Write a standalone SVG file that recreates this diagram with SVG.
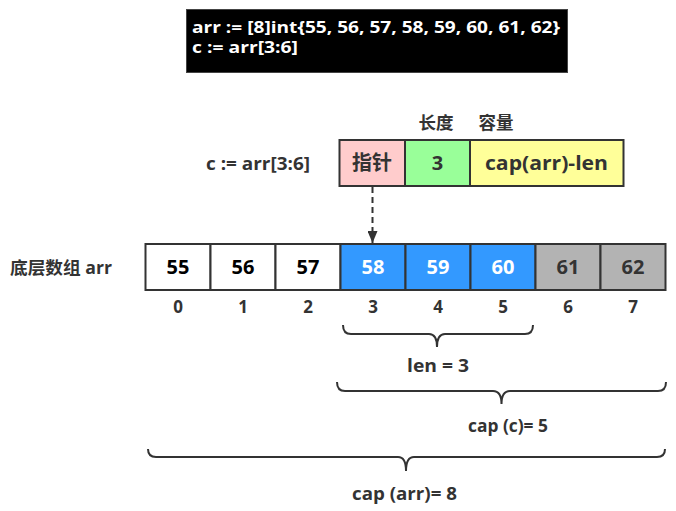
<svg xmlns="http://www.w3.org/2000/svg" width="676" height="511" viewBox="0 0 676 511">
<defs>
<style>
text{font-family:"Open Sans","Noto Sans CJK SC",sans-serif;font-weight:bold;}
.lbl{font-size:17.5px;fill:#333;text-anchor:middle;}
.idx{font-size:17px;fill:#333;text-anchor:middle;}
.num{font-size:20px;text-anchor:middle;}
.cell{stroke:#333;stroke-width:2;}
.brace{fill:none;stroke:#333;stroke-width:2;}
</style>
<marker id="arr" markerWidth="12" markerHeight="10" refX="12" refY="5" orient="auto" markerUnits="userSpaceOnUse" viewBox="0 0 12 10">
<path d="M0,0 L12,5 L0,10 Z" fill="#333"/>
</marker>
</defs>
<rect width="676" height="511" fill="#fff"/>
<g id="code">
<rect x="186.5" y="9.5" width="381" height="63" fill="#000" stroke="#444" stroke-width="1"/>
<text x="192" y="33" font-size="16" fill="#fff" textLength="368" lengthAdjust="spacingAndGlyphs">arr := [8]int{55, 56, 57, 58, 59, 60, 61, 62}</text>
<text x="192" y="53" font-size="16" fill="#fff" textLength="106" lengthAdjust="spacingAndGlyphs">c := arr[3:6]</text>
</g>
<g id="slice">
<text class="lbl" x="258" y="169.5" textLength="104" lengthAdjust="spacingAndGlyphs">c := arr[3:6]</text>
<text class="lbl" x="436" y="128.5">长度</text>
<text class="lbl" x="496" y="128.5">容量</text>
<rect class="cell" x="339.5" y="140" width="65.5" height="46" fill="#FFCCCC"/>
<rect class="cell" x="405" y="140" width="65" height="46" fill="#99FF99"/>
<rect class="cell" x="470" y="140" width="153.5" height="46" fill="#FFFF99"/>
<text class="num" x="372" y="170" fill="#333" font-size="19">指针</text>
<text class="num" x="437.5" y="170" fill="#333">3</text>
<text class="num" x="546.5" y="170" fill="#333" textLength="123" lengthAdjust="spacingAndGlyphs">cap(arr)-len</text>
</g>
<g id="connectors">
<line x1="372.5" y1="187" x2="372.5" y2="243" stroke="#333" stroke-width="2" stroke-dasharray="6,4" marker-end="url(#arr)"/>
</g>
<g id="array">
<text class="lbl" x="61" y="274" textLength="102" lengthAdjust="spacingAndGlyphs">底层数组 arr</text>
<rect class="cell" x="145.5" y="244" width="65" height="46" fill="#fff"/>
<rect class="cell" x="210.5" y="244" width="65" height="46" fill="#fff"/>
<rect class="cell" x="275.5" y="244" width="65" height="46" fill="#fff"/>
<rect class="cell" x="340.5" y="244" width="65" height="46" fill="#3399FF"/>
<rect class="cell" x="405.5" y="244" width="65" height="46" fill="#3399FF"/>
<rect class="cell" x="470.5" y="244" width="65" height="46" fill="#3399FF"/>
<rect class="cell" x="535.5" y="244" width="65" height="46" fill="#B3B3B3"/>
<rect class="cell" x="600.5" y="244" width="65" height="46" fill="#B3B3B3"/>
<text class="num" x="178" y="274" fill="#000">55</text>
<text class="num" x="243" y="274" fill="#000">56</text>
<text class="num" x="308" y="274" fill="#000">57</text>
<text class="num" x="373" y="274" fill="#fff">58</text>
<text class="num" x="438" y="274" fill="#fff">59</text>
<text class="num" x="503" y="274" fill="#fff">60</text>
<text class="num" x="568" y="274" fill="#333">61</text>
<text class="num" x="633" y="274" fill="#333">62</text>
<text class="idx" x="178" y="312.5">0</text>
<text class="idx" x="243" y="312.5">1</text>
<text class="idx" x="308" y="312.5">2</text>
<text class="idx" x="373" y="312.5">3</text>
<text class="idx" x="438" y="312.5">4</text>
<text class="idx" x="503" y="312.5">5</text>
<text class="idx" x="568" y="312.5">6</text>
<text class="idx" x="633" y="312.5">7</text>
</g>
<g id="len-brace">
<path class="brace" d="M343,325 Q343,334 351,334 L429,334 Q437,334 437,347 Q437,334 445,334 L525,334 Q533,334 533,325"/>
<text class="lbl" x="438" y="371.5" textLength="62" lengthAdjust="spacingAndGlyphs">len = 3</text>
</g>
<g id="capc-brace">
<path class="brace" d="M337,382 Q337,391 345,391 L493,391 Q501.5,391 501.5,404 Q501.5,391 510,391 L658,391 Q666,391 666,382"/>
<text class="lbl" x="508" y="432" textLength="80" lengthAdjust="spacingAndGlyphs">cap (c)= 5</text>
</g>
<g id="caparr-brace">
<path class="brace" d="M148,449 Q148,457 156,457 L398,457 Q406,457 406,471 Q406,457 414,457 L657,457 Q665,457 665,449"/>
<text class="lbl" x="404.5" y="500" textLength="105" lengthAdjust="spacingAndGlyphs">cap (arr)= 8</text>
</g>
</svg>
